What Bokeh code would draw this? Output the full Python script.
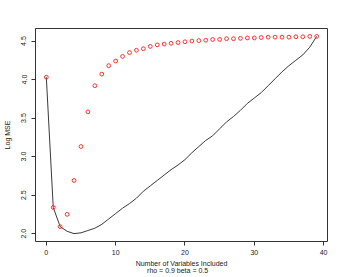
from bokeh.plotting import figure
from bokeh.models import Range1d, FixedTicker
from bokeh.embed import file_html
from bokeh.resources import INLINE

# data
n_vars = list(range(40))
mse_points = [4.03, 2.34, 2.09, 2.25, 2.69, 3.13, 3.58, 3.92, 4.07, 4.18,
              4.24, 4.30, 4.35, 4.38, 4.40, 4.43, 4.45, 4.46, 4.47, 4.48,
              4.49, 4.50, 4.505, 4.51, 4.52, 4.52, 4.53, 4.53, 4.535, 4.54,
              4.54, 4.545, 4.55, 4.55, 4.55, 4.55, 4.555, 4.555, 4.56, 4.56]
mse_line = [4.03, 2.34, 2.09, 2.03, 2.00, 2.01, 2.04, 2.07, 2.12, 2.19,
            2.26, 2.33, 2.39, 2.46, 2.55, 2.62, 2.69, 2.76, 2.83, 2.89,
            2.96, 3.05, 3.13, 3.21, 3.27, 3.36, 3.45, 3.52, 3.60, 3.69,
            3.76, 3.83, 3.92, 4.01, 4.10, 4.18, 4.25, 4.32, 4.42, 4.56]
x_ticks = [0, 10, 20, 30, 40]
y_ticks = [2.0, 2.5, 3.0, 3.5, 4.0, 4.5]
x_title = "Number of Variables Included"
sub_title = "rho =  0.9   beta =  0.5"
y_title = "Log MSE"

FONT = "Liberation Sans"
TXT = "#222222"

p = figure(width=346, height=277,
           x_range=Range1d(-1.56, 40.56), y_range=Range1d(1.8976, 4.6624),
           output_backend="svg", toolbar_location=None,
           min_border_left=35, min_border_top=28, min_border_right=19,
           min_border_bottom=36)
p.background_fill_color = "white"
p.border_fill_color = "white"
p.outline_line_color = "#333333"
p.outline_line_width = 1
p.grid.visible = False

p.line(n_vars, mse_line, line_color="#3a3a3a", line_width=1)
p.scatter(n_vars, mse_points, marker="circle", size=3.8, fill_color=None,
          line_color="#ff3030", line_width=1)

for ax in (p.xaxis[0], p.yaxis[0]):
    ax.axis_line_color = None
    ax.major_tick_line_color = "#333333"
    ax.major_tick_in = 0
    ax.major_tick_out = 4
    ax.minor_tick_line_color = None
    ax.major_label_text_font = FONT
    ax.major_label_text_font_size = "7px"
    ax.major_label_text_color = TXT
    ax.axis_label_text_font = FONT
    ax.axis_label_text_font_size = "7px"
    ax.axis_label_text_font_style = "normal"
    ax.axis_label_text_color = TXT

p.xaxis[0].ticker = FixedTicker(ticks=x_ticks)
p.yaxis[0].ticker = FixedTicker(ticks=y_ticks)
p.xaxis[0].major_label_standoff = 4
p.yaxis[0].major_label_standoff = 5
p.yaxis[0].major_label_orientation = "vertical"
p.xaxis[0].major_label_overrides = {t: str(t) for t in x_ticks}
p.yaxis[0].major_label_overrides = {t: f"{t:.1f}" for t in y_ticks}

p.xaxis[0].axis_label = x_title + "\n" + sub_title
p.xaxis[0].axis_label_text_line_height = 1.0
p.xaxis[0].axis_label_standoff = 2
p.yaxis[0].axis_label = y_title
p.yaxis[0].axis_label_standoff = 8

open("out.html", "w").write(file_html(p, INLINE))
